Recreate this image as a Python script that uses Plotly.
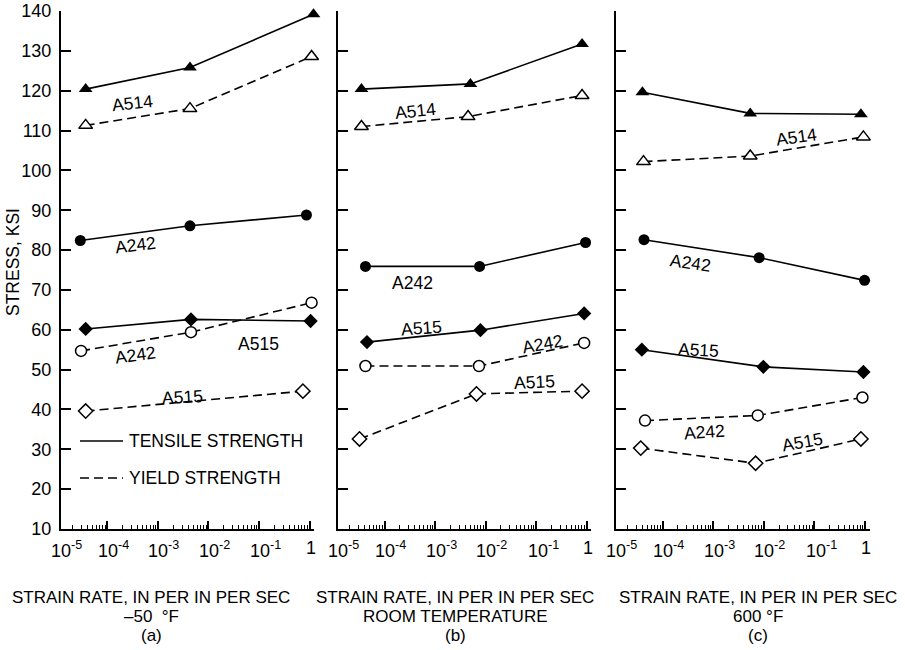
import numpy as np
import plotly.graph_objects as go

# ---------------- data ----------------
panel_letters = ["(a)", "(b)", "(c)"]
conditions = ["–50  °F", "ROOM TEMPERATURE", "600 °F"]
x_title = "STRAIN RATE, IN PER IN PER SEC"
y_title = "STRESS, KSI"
decades = [1e-5, 1e-4, 1e-3, 1e-2, 1e-1, 1]
decade_exponents = ["-5", "-4", "-3", "-2", "-1", ""]
y_ticks = list(range(10, 141, 10))
legend_labels = ["TENSILE STRENGTH", "YIELD STRENGTH"]

# (a) -50 F
a_A514_T_rate = [3.7e-5, 4.3e-3, 1.2]
a_A514_T_ksi = [120.4, 125.8, 139.2]
a_A514_Y_rate = [3.7e-5, 4.3e-3, 1.1]
a_A514_Y_ksi = [111.3, 115.5, 128.6]
a_A242_T_rate = [2.9e-5, 4.3e-3, 0.87]
a_A242_T_ksi = [82.4, 86.1, 88.8]
a_A515_T_rate = [3.7e-5, 4.5e-3, 1.05]
a_A515_T_ksi = [60.2, 62.6, 62.2]
a_A242_Y_rate = [3.0e-5, 4.5e-3, 1.1]
a_A242_Y_ksi = [54.7, 59.4, 66.8]
a_A515_Y_rate = [3.7e-5, 0.74]
a_A515_Y_ksi = [39.6, 44.6]

# (b) room temperature
b_A514_T_rate = [3.5e-5, 5.0e-3, 0.81]
b_A514_T_ksi = [120.4, 121.7, 131.7]
b_A514_Y_rate = [3.5e-5, 4.5e-3, 0.81]
b_A514_Y_ksi = [111.0, 113.5, 118.8]
b_A242_T_rate = [4.2e-5, 7.6e-3, 0.95]
b_A242_T_ksi = [75.9, 75.9, 81.9]
b_A515_T_rate = [4.5e-5, 7.9e-3, 0.89]
b_A515_T_ksi = [56.9, 59.9, 64.1]
b_A242_Y_rate = [4.2e-5, 7.4e-3, 0.89]
b_A242_Y_ksi = [50.9, 50.9, 56.7]
b_A515_Y_rate = [3.2e-5, 6.6e-3, 0.81]
b_A515_Y_ksi = [32.6, 43.9, 44.6]

# (c) 600 F
c_A514_T_rate = [4.0e-5, 5.4e-3, 0.83]
c_A514_T_ksi = [119.6, 114.3, 114.1]
c_A514_Y_rate = [4.2e-5, 5.4e-3, 0.93]
c_A514_Y_ksi = [102.2, 103.6, 108.4]
c_A242_T_rate = [4.3e-5, 8.1e-3, 0.98]
c_A242_T_ksi = [82.6, 78.1, 72.4]
c_A515_T_rate = [3.9e-5, 9.8e-3, 0.93]
c_A515_T_ksi = [55.0, 50.7, 49.4]
c_A242_Y_rate = [4.5e-5, 7.6e-3, 0.89]
c_A242_Y_ksi = [37.2, 38.5, 43.0]
c_A515_Y_rate = [3.7e-5, 6.9e-3, 0.83]
c_A515_Y_ksi = [30.3, 26.5, 32.6]

# ---------------- styles / layout ----------------
FONT = "Liberation Sans, Arial, Helvetica, sans-serif"
FS = 17.5
FS_TICK = 18
BLACK = "#000000"
DASH = "9px,5px"
W, H = 905, 650

def sx(px):
    return px / W

def sy(py):
    return 1 - py / H

marker_style = {
    ("A514", "T"): dict(symbol="triangle-up", size=12, color=BLACK),
    ("A514", "Y"): dict(symbol="triangle-up", size=12, color="white",
                        line=dict(color=BLACK, width=1.5)),
    ("A242", "T"): dict(symbol="circle", size=11, color=BLACK),
    ("A242", "Y"): dict(symbol="circle", size=11, color="white",
                        line=dict(color=BLACK, width=1.5)),
    ("A515", "T"): dict(symbol="diamond", size=11, color=BLACK),
    ("A515", "Y"): dict(symbol="diamond", size=11, color="white",
                        line=dict(color=BLACK, width=1.5)),
}

panels = [
    {
        ("A514", "T"): (a_A514_T_rate, a_A514_T_ksi),
        ("A514", "Y"): (a_A514_Y_rate, a_A514_Y_ksi),
        ("A242", "T"): (a_A242_T_rate, a_A242_T_ksi),
        ("A242", "Y"): (a_A242_Y_rate, a_A242_Y_ksi),
        ("A515", "T"): (a_A515_T_rate, a_A515_T_ksi),
        ("A515", "Y"): (a_A515_Y_rate, a_A515_Y_ksi),
    },
    {
        ("A514", "T"): (b_A514_T_rate, b_A514_T_ksi),
        ("A514", "Y"): (b_A514_Y_rate, b_A514_Y_ksi),
        ("A242", "T"): (b_A242_T_rate, b_A242_T_ksi),
        ("A242", "Y"): (b_A242_Y_rate, b_A242_Y_ksi),
        ("A515", "T"): (b_A515_T_rate, b_A515_T_ksi),
        ("A515", "Y"): (b_A515_Y_rate, b_A515_Y_ksi),
    },
    {
        ("A514", "T"): (c_A514_T_rate, c_A514_T_ksi),
        ("A514", "Y"): (c_A514_Y_rate, c_A514_Y_ksi),
        ("A242", "T"): (c_A242_T_rate, c_A242_T_ksi),
        ("A242", "Y"): (c_A242_Y_rate, c_A242_Y_ksi),
        ("A515", "T"): (c_A515_T_rate, c_A515_T_ksi),
        ("A515", "Y"): (c_A515_Y_rate, c_A515_Y_ksi),
    },
]

# series label placement (log10 rate, ksi, angle) per panel
label_pos = [
    [("A514", -3.50, 116.8, -6), ("A242", -3.44, 81.3, -7), ("A242", -3.44, 53.6, -8),
     ("A515", -1.01, 56.4, 0), ("A515", -2.51, 43.1, -3)],
    [("A514", -3.39, 114.8, -6), ("A242", -3.44, 71.8, 0), ("A515", -3.27, 60.5, -4),
     ("A242", -0.88, 56.5, -10), ("A515", -1.04, 47.0, -3)],
    [("A514", -1.35, 108.3, -8), ("A242", -3.45, 76.8, 8), ("A515", -3.29, 54.8, 3),
     ("A242", -3.18, 34.3, -4), ("A515", -1.24, 31.8, -10)],
]

R0, R1 = -4.92, 0.09
panel_left = [61, 338, 616]      # px of the y axis
panel_one = [309.5, 586.7, 865]  # px of strain rate = 1
y_top, y_bot = 11, 529           # px of 140 and 10 ksi
title_cx = [151, 455, 758]
title_py = [597, 616, 635]
decade_label_shift = [10, 6, 6, 6, 7, 1]

fig = go.Figure()
annotations = []
shapes = []
minor_vals = [m * d for d in decades[:-1] for m in range(2, 10)]

for i, data in enumerate(panels):
    n = "" if i == 0 else str(i + 1)
    xa, ya = "x" + n, "y" + n
    for key, (rate, ksi) in data.items():
        fig.add_trace(go.Scatter(
            x=rate, y=ksi, xaxis=xa, yaxis=ya, mode="lines+markers",
            line=dict(color=BLACK, width=1.6, dash="solid" if key[1] == "T" else DASH),
            marker=marker_style[key], cliponaxis=False, showlegend=False,
            hoverinfo="skip"))
    dec_px = (panel_one[i] - panel_left[i]) / (-R0)
    right = panel_one[i] + R1 * dec_px
    dom_x = [sx(panel_left[i]), sx(right)]
    dom_y = [sy(y_bot), sy(y_top)]
    fig.update_layout(**{
        "xaxis" + n: dict(
            type="log", domain=dom_x, range=[R0, R1], anchor=ya, automargin=False,
            showline=True, linecolor=BLACK, linewidth=2, showgrid=False, zeroline=False,
            tickvals=decades, ticks="inside", ticklen=8, tickwidth=1.5, tickcolor=BLACK,
            showticklabels=False,
            minor=dict(tickvals=minor_vals, ticks="inside", ticklen=4, tickwidth=1.2,
                       tickcolor=BLACK, showgrid=False)),
        "yaxis" + n: dict(
            domain=dom_y, range=[10, 140], anchor=xa, automargin=False,
            showline=True, linecolor=BLACK, linewidth=2, showgrid=False, zeroline=False,
            tickvals=y_ticks, ticks="inside", ticklen=10, tickwidth=1.5, tickcolor=BLACK,
            showticklabels=(i == 0), ticklabelstandoff=4, ticklabeloverflow="allow",
            tickfont=dict(family=FONT, size=FS_TICK, color=BLACK)),
    })
    # decade tick labels
    for d, ex, shift in zip(decades, decade_exponents, decade_label_shift):
        lab = "1" if not ex else "10<sup>%s</sup>" % ex
        annotations.append(dict(
            xref=xa + " domain", yref=ya + " domain",
            x=(np.log10(d) - R0) / (R1 - R0), y=0, yanchor="top",
            xanchor="center", yshift=-8, xshift=shift,
            text=lab, showarrow=False, borderpad=0,
            font=dict(family=FONT, size=FS_TICK, color=BLACK)))
    # series labels
    for txt, lx, ly, ang in label_pos[i]:
        annotations.append(dict(
            xref=xa, yref=ya, x=lx, y=ly, text=txt, showarrow=False, textangle=ang,
            borderpad=0, font=dict(family=FONT, size=FS, color=BLACK)))
    # axis titles (three lines)
    for txt, py in zip([x_title, conditions[i], panel_letters[i]], title_py):
        annotations.append(dict(
            xref="paper", yref="paper", x=sx(title_cx[i]), y=sy(py),
            xanchor="center", yanchor="middle", text=txt, showarrow=False,
            borderpad=0, font=dict(family=FONT, size=17, color=BLACK)))

# y title
annotations.append(dict(
    xref="paper", yref="paper", x=sx(13), y=sy(262), text=y_title,
    textangle=-90, showarrow=False, xanchor="center", yanchor="middle",
    borderpad=0, font=dict(family=FONT, size=FS, color=BLACK)))

# legend (inside panel a), positions in axis-domain fractions
a_w = (panel_one[0] + R1 * (panel_one[0] - panel_left[0]) / (-R0)) - panel_left[0]
def fx(px):
    return (px - panel_left[0]) / a_w
def fy(py):
    return (y_bot - py) / (y_bot - y_top)

for lab, py, dash in zip(legend_labels, [441, 478], ["solid", DASH]):
    shapes.append(dict(type="line", xref="x domain", yref="y domain",
                       x0=fx(80), x1=fx(123), y0=fy(py), y1=fy(py),
                       line=dict(color=BLACK, width=1.6, dash=dash)))
    annotations.append(dict(
        xref="x domain", yref="y domain", x=fx(128), y=fy(py), xanchor="left",
        yanchor="middle", text=lab, showarrow=False, borderpad=0,
        font=dict(family=FONT, size=FS, color=BLACK)))

fig.update_layout(
    template="none",
    width=W, height=H,
    margin=dict(l=0, r=0, t=0, b=0, pad=0, autoexpand=False),
    paper_bgcolor="white", plot_bgcolor="white", showlegend=False,
    annotations=annotations, shapes=shapes,
    font=dict(family=FONT, size=FS, color=BLACK),
)

fig.write_html("out.html", config={"displayModeBar": False},
               post_script="document.body.style.margin='0px';")
